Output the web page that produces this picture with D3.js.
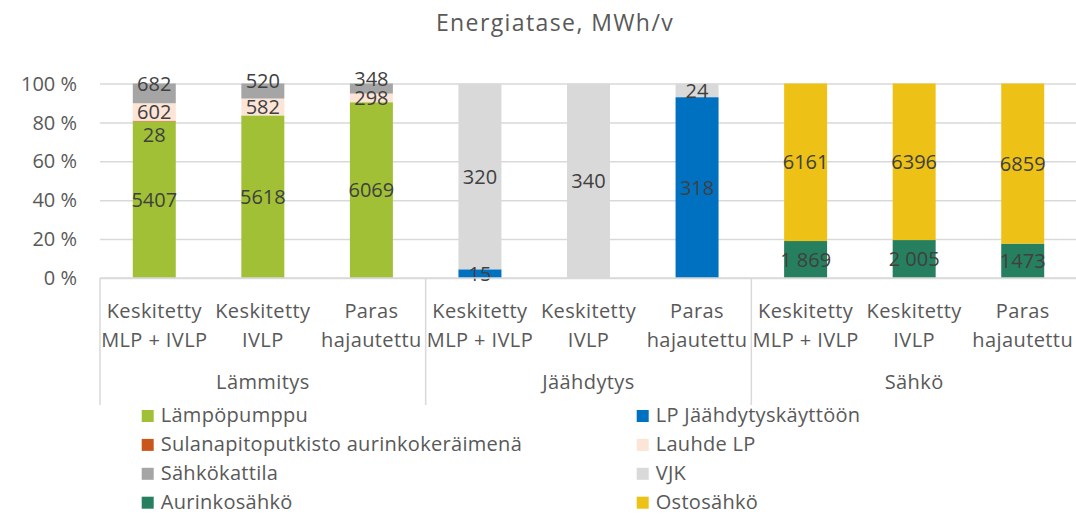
<!DOCTYPE html>
<html>
<head>
<meta charset="utf-8">
<script src="https://cdn.jsdelivr.net/npm/d3@7"></script>
<style>
  html, body { margin: 0; padding: 0; background: #fff; }
  svg { display: block; font-family: "Open Sans", "Noto Sans", sans-serif; }
</style>
</head>
<body>
<svg id="chart" width="1076" height="515"></svg>
<script>
// ---- data ----
const title = "Energiatase, MWh/v";
const groups = ["Lämmitys", "Jäähdytys", "Sähkö"];
const subCategories = [["Keskitetty", "MLP + IVLP"], ["Keskitetty", "IVLP"], ["Paras", "hajautettu"]];
const yTickValues = [0, 0.2, 0.4, 0.6, 0.8, 1.0];
const yTickLabels = ["0 %", "20 %", "40 %", "60 %", "80 %", "100 %"];

const seriesNames = ["Lämpöpumppu", "LP Jäähdytyskäyttöön", "Sulanapitoputkisto aurinkokeräimenä", "Lauhde LP",
                     "Sähkökattila", "VJK", "Aurinkosähkö", "Ostosähkö"];
const lampopumppu  = [5407, 5618, 6069, 0, 0, 0, 0, 0, 0];
const lpJaahdytys  = [0, 0, 0, 15, 0, 318, 0, 0, 0];
const sulanapito   = [28, 0, 0, 0, 0, 0, 0, 0, 0];
const lauhdeLP     = [602, 582, 298, 0, 0, 0, 0, 0, 0];
const sahkokattila = [682, 520, 348, 0, 0, 0, 0, 0, 0];
const vjk          = [0, 0, 0, 320, 340, 24, 0, 0, 0];
const aurinkosahko = [0, 0, 0, 0, 0, 0, 1445, 1550, 1473];
const ostosahko    = [0, 0, 0, 0, 0, 0, 6161, 6396, 6859];
// label texts shown on the aurinkosähkö bars
const aurinkoLabels = ["", "", "", "", "", "", "1 869", "2 005", "1473"];

const seriesColors = ["#A1C035", "#0070C0", "#C9571B", "#FCE4D6", "#A5A5A5", "#D9D9D9", "#267F5F", "#EEC116"];
const labelNudge = {"Sulanapitoputkisto aurinkokeräimenä": 14, "Sähkökattila": -10};

// ---- build table ----
const seriesValues = [lampopumppu, lpJaahdytys, sulanapito, lauhdeLP, sahkokattila, vjk, aurinkosahko, ostosahko];
const categories = [];
groups.forEach((g, gi) => subCategories.forEach((s, si) => categories.push({id: gi * 3 + si, group: g, lines: s})));
const table = categories.map((c, i) => {
  const row = {id: c.id};
  seriesNames.forEach((n, k) => row[n] = seriesValues[k][i]);
  return row;
});

// ---- layout ----
const svg = d3.select("#chart");
const plotLeft = 100, plotRight = 1077, plotTop = 83.5, plotBottom = 278;
const x = d3.scaleBand().domain(categories.map(c => c.id)).range([plotLeft, plotRight]).paddingInner(0.604).paddingOuter(0.302);
const slot = d3.scaleBand().domain(categories.map(c => c.id)).range([plotLeft, plotRight]).padding(0);
const y = d3.scaleLinear().domain([0, 1]).range([plotBottom, plotTop]);
const color = d3.scaleOrdinal().domain(seriesNames).range(seriesColors);

// title
svg.append("text").attr("x", 555).attr("y", 31).attr("text-anchor", "middle")
  .attr("font-size", 23).attr("letter-spacing", 1.4).attr("fill", "#595959").text(title);

// gridlines + y axis
const yAxis = d3.axisLeft(y).tickValues(yTickValues).tickSize(-(plotRight - plotLeft)).tickPadding(23)
  .tickFormat((d, i) => yTickLabels[i]);
const ga = svg.append("g").attr("transform", `translate(${plotLeft},0)`).call(yAxis);
ga.select(".domain").remove();
ga.selectAll(".tick line").attr("stroke", "#D9D9D9").attr("stroke-width", 1.5);
ga.selectAll(".tick text").attr("font-size", 20).attr("fill", "#595959")
  .attr("font-family", "'Open Sans', sans-serif").attr("dy", "0.33em");

// stacked bars
const stack = d3.stack().keys(seriesNames).offset(d3.stackOffsetExpand);
const stacked = stack(table);
const layers = svg.append("g").selectAll("g").data(stacked).join("g").attr("fill", d => color(d.key));
layers.selectAll("rect").data(d => d.map(p => ({p, key: d.key}))).join("rect")
  .attr("x", d => x(d.p.data.id))
  .attr("width", x.bandwidth())
  .attr("y", d => y(d.p[1]))
  .attr("height", d => Math.max(0, y(d.p[0]) - y(d.p[1])));

// data labels
const lbl = svg.append("g").attr("font-size", 20).attr("fill", "#404040").attr("text-anchor", "middle");
stacked.forEach(layer => {
  layer.forEach((p, i) => {
    const v = p.data[layer.key];
    if (!v) return;
    const txt = layer.key === "Aurinkosähkö" ? aurinkoLabels[i] : String(v);
    const cy = (y(p[0]) + y(p[1])) / 2 + (labelNudge[layer.key] || 0);
    lbl.append("text").attr("x", x(p.data.id) + x.bandwidth() / 2).attr("y", cy).attr("dy", "0.36em").text(txt);
  });
});

// x axis baseline
svg.append("line").attr("x1", plotLeft).attr("x2", plotRight).attr("y1", plotBottom).attr("y2", plotBottom)
  .attr("stroke", "#D9D9D9").attr("stroke-width", 1.5);

// category labels
const cl = svg.append("g").attr("font-size", 20).attr("fill", "#595959").attr("text-anchor", "middle").attr("letter-spacing", 0.4);
categories.forEach(c => {
  const cx = slot(c.id) + slot.bandwidth() / 2;
  cl.append("text").attr("x", cx).attr("y", 318).text(c.lines[0]);
  cl.append("text").attr("x", cx).attr("y", 346.5).text(c.lines[1]);
});

// group labels and separators
const gl = svg.append("g").attr("font-size", 20).attr("fill", "#595959").attr("text-anchor", "middle").attr("letter-spacing", 0.4);
groups.forEach((g, gi) => {
  const x0 = slot(gi * 3), x1 = slot(gi * 3 + 2) + slot.bandwidth();
  gl.append("text").attr("x", (x0 + x1) / 2).attr("y", 388.5).text(g);
});
for (let gi = 0; gi <= groups.length; gi++) {
  const xx = gi < groups.length ? slot(gi * 3) : plotRight;
  svg.append("line").attr("x1", xx).attr("x2", xx).attr("y1", plotBottom).attr("y2", 405)
    .attr("stroke", "#D9D9D9").attr("stroke-width", 1.5);
}

// legend (two columns, row-major)
const leg = svg.append("g").attr("font-size", 20).attr("fill", "#595959").attr("letter-spacing", 0.3);
seriesNames.forEach((n, i) => {
  const col = i % 2, row = Math.floor(i / 2);
  const sx = col === 0 ? 141.7 : 636.7;
  const by = 422 + row * 28.9;
  leg.append("rect").attr("x", sx).attr("y", by - 12).attr("width", 12).attr("height", 12).attr("fill", color(n));
  leg.append("text").attr("x", sx + 19).attr("y", by).text(n);
});
</script>
</body>
</html>
